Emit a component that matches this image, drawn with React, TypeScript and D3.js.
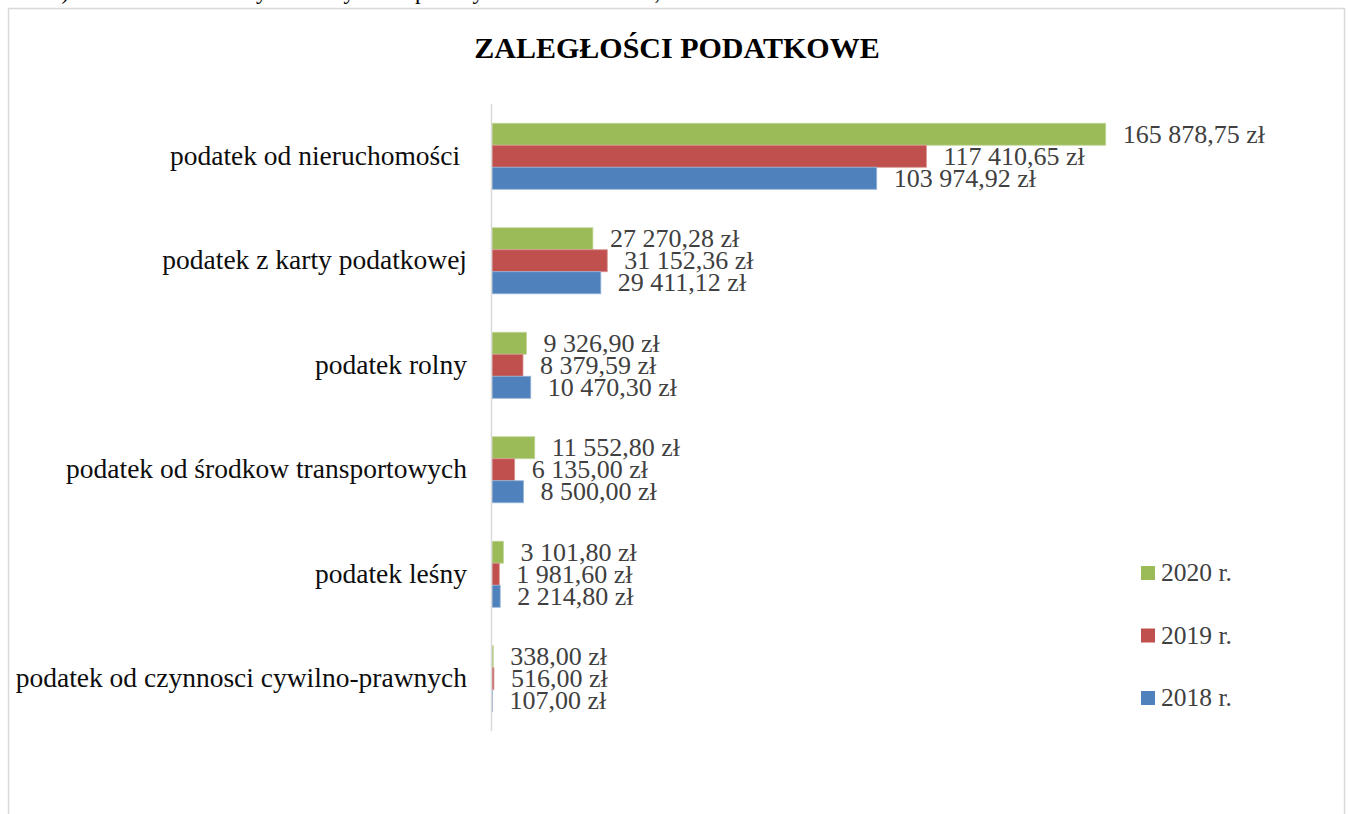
import * as d3 from 'd3'

const categories = [
  'podatek od nieruchomości ',
  'podatek z karty podatkowej',
  'podatek rolny',
  'podatek od środkow transportowych',
  'podatek leśny',
  'podatek od czynnosci cywilno-prawnych',
]
const seriesNames = ['2020 r.', '2019 r.', '2018 r.']
const seriesColors = ['#9bbb59', '#c0504d', '#4f81bd']
const seriesStrokes = ['#c3d69b', '#d99694', '#95b3d7']
const values2020 = [165878.75, 27270.28, 9326.9, 11552.8, 3101.8, 338.0]
const values2019 = [117410.65, 31152.36, 8379.59, 6135.0, 1981.6, 516.0]
const values2018 = [103974.92, 29411.12, 10470.3, 8500.0, 2214.8, 107.0]
const seriesValues = [values2020, values2019, values2018]

const serif = '"Liberation Serif", "Times New Roman", serif'

// 1 234,56 zł
const fmt = (v: number) => {
  const [int, dec] = v.toFixed(2).split('.')
  return `${int.replace(/\B(?=(\d{3})+(?!\d))/g, ' ')},${dec} zł`
}

export default function App() {
  const width = 1348
  const height = 814
  const axisX = 492
  const plot = { top: 104, bottom: 731 }

  const x = d3.scaleLinear().domain([0, 180000]).range([axisX, axisX + 666])
  const y = d3
    .scaleBand<string>()
    .domain(categories)
    .range([plot.top, plot.bottom])
    .paddingInner(0.368)
    .paddingOuter(0.184)
  const ySub = d3.scaleBand<string>().domain(seriesNames).range([0, y.bandwidth()])

  const legendY = d3.scalePoint<string>().domain(seriesNames).range([573, 698])

  return (
    <div style={{ position: 'absolute', left: 0, top: 0 }}>
      <svg width={width} height={height} style={{ display: 'block', background: '#fff' }}>
        {/* line of document text above the chart, cut off by the page edge */}
        <g fontFamily={serif} fontSize={23} fill="#000">
          <text x={50} y={-1}>6)</text>
          <text x={127} y={-1}>Podatek od czynności cywilno-prawnych</text>
          <text x={620} y={-1}>338,00</text>
        </g>
        <rect x={8.5} y={8.5} width={1336} height={900} fill="#fff" stroke="#d9d9d9" strokeWidth={1.5} />

        <text x={677} y={58} textAnchor="middle" fontFamily={serif} fontWeight="bold" fontSize={30} fill="#000">
          ZALEGŁOŚCI PODATKOWE
        </text>

        {categories.map((c) => (
          <text
            key={c}
            x={467}
            y={y(c)! + y.bandwidth() / 2}
            dy="0.3em"
            textAnchor="end"
            fontFamily={serif}
            fontSize={27.5}
            fill="#0d0d0d"
            style={{ whiteSpace: 'pre' }}
          >
            {c}
          </text>
        ))}

        {seriesNames.map((s, si) =>
          categories.map((c, ci) => {
            const v = seriesValues[si][ci]
            const y0 = y(c)! + ySub(s)!
            const h = ySub.bandwidth()
            return (
              <g key={s + c}>
                <rect
                  x={x(0)}
                  y={y0}
                  width={x(v) - x(0)}
                  height={h}
                  fill={seriesColors[si]}
                  stroke={seriesStrokes[si]}
                  strokeWidth={0.8}
                />
                <text
                  x={x(v) + 17}
                  y={y0 + h / 2}
                  dy="0.33em"
                  fontFamily={serif}
                  fontSize={26}
                  fill="#404040"
                >
                  {fmt(v)}
                </text>
              </g>
            )
          })
        )}

        <line x1={axisX - 0.5} x2={axisX - 0.5} y1={plot.top} y2={plot.bottom} stroke="#d9d9d9" strokeWidth={1.5} />

        {seriesNames.map((s, si) => (
          <g key={s} transform={`translate(1141,${legendY(s)})`}>
            <rect x={0} y={-7} width={14} height={14} fill={seriesColors[si]} />
            <text x={20} y={0} dy="0.33em" fontFamily={serif} fontSize={25.5} fill="#404040">
              {s}
            </text>
          </g>
        ))}
      </svg>
    </div>
  )
}
